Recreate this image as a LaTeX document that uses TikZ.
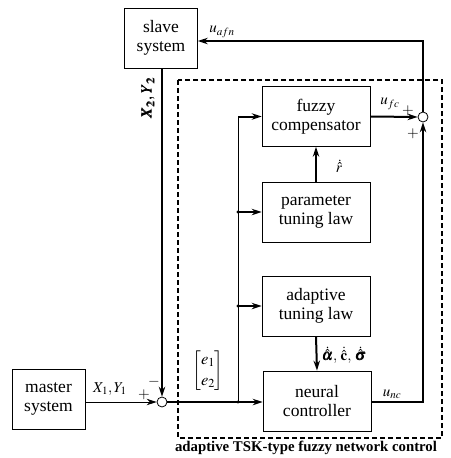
\documentclass[tikz,border=0pt]{standalone}
\usepackage{amsmath}
\usepackage{mathptmx}
\usepackage{bm}
\usepackage[no-math]{fontspec}
\setmainfont{Liberation Serif}
\usetikzlibrary{arrows.meta}
\begin{document}
\begin{tikzpicture}[x=1pt,y=-1pt,
  blk/.style={draw,line width=0.8pt,minimum width=108pt,minimum height=60pt,align=center,font=\fontsize{17.5}{19.5}\selectfont,inner sep=0pt},
  sblk/.style={draw,line width=0.8pt,minimum width=73pt,minimum height=60pt,align=center,font=\fontsize{17.5}{19.5}\selectfont,inner sep=0pt},
  sumc/.style={draw,circle,line width=0.8pt,minimum size=10pt,inner sep=0pt},
  thk/.style={line width=2pt},
  thn/.style={line width=0.9pt},
  arr/.style={-{Stealth[length=10pt,width=6.5pt]}},
  lbl/.style={font=\fontsize{15}{17}\selectfont,inner sep=0pt}
]
\useasboundingbox (0,0) rectangle (450,458);
% dashed frame
\draw[line width=2pt,dash pattern=on 5pt off 3pt] (178,80) rectangle (442,438);
\node[font=\bfseries\fontsize{14.8}{16}\selectfont,inner sep=0pt] (title) at (306,448) {adaptive TSK-type fuzzy network control};

\node[sblk] (slave) at (161,38) {slave\\system};
\node[sblk] (master) at (48.5,399) {master\\system};
\node[blk] (fuzzy) at (316,116.5) {fuzzy\\compensator};
\node[blk] (param) at (316,212) {parameter\\tuning law};
\node[blk] (adapt) at (316,306) {adaptive\\tuning law};
\node[blk] (neural) at (317,401) {neural\\controller};
\node[sumc] (s1) at (162,402) {};
\node[sumc] (s2) at (423,117) {};

\coordinate (jn) at (238,402);
\coordinate (j1) at (238,116.5);
\coordinate (j2) at (238,212);
\coordinate (j3) at (238,306);
\coordinate (c2) at (423,402);
\coordinate (c3) at (423,41);

% connections
\draw[thn,arr] (master.east |- s1) -- (s1.west);
\draw[thk,arr] (slave.south -| s1) -- (s1.north);
\draw[thk,arr] (s1.east) -- (neural.west |- s1);
\draw[thn] (jn) -- (j1);
\draw[thk,arr] (j1) -- (fuzzy.west);
\draw[thk,arr] (j2) -- (param.west);
\draw[thk,arr] (j3) -- (adapt.west);
\fill (jn) circle (1.6pt);
\fill (j2) circle (1.6pt);
\fill (j3) circle (1.6pt);
\draw[thk,arr] (param.north) -- (fuzzy.south);
\draw[thk,arr] (adapt.south) -- (neural.north);
\draw[thk,arr] (fuzzy.east) -- (s2.west);
\draw[thk,arr] (neural.east |- c2) -- (c2) -- (s2.south);
\draw[thk,arr] (s2.north) -- (c3) -- (slave.east |- c3);

% labels
\node[lbl] (lafn) at (222,32) {$u_{afn}$};
\node[lbl] (lfc) at (390,104) {$u_{fc}$};
\node[lbl] (p1) at (408,111) {$+$};
\node[lbl] (p2) at (413,134) {$+$};
\node[lbl] (lnc) at (392,394) {$u_{nc}$};
\node[lbl] (pm) at (144,395) {$+$};
\node[lbl] (mm) at (154,382) {$-$};
\node[lbl] (lx1) at (110,389) {$X_1,Y_1$};
\node[lbl,rotate=90] (lx2) at (148,98) {$\bm{X_2,Y_2}$};
\node[lbl,font=\fontsize{16.5}{19}\selectfont] (le) at (208,371) {$\begin{bmatrix} e_1\\[2pt] e_2\end{bmatrix}$};
\node[lbl] (lr) at (339,166) {$\dot{\hat{r}}$};
\node[lbl] (la) at (344,355) {$\dot{\hat{\bm{\alpha}}},\,\dot{\hat{\mathbf{c}}},\,\dot{\hat{\bm{\sigma}}}$};
\end{tikzpicture}
\end{document}
